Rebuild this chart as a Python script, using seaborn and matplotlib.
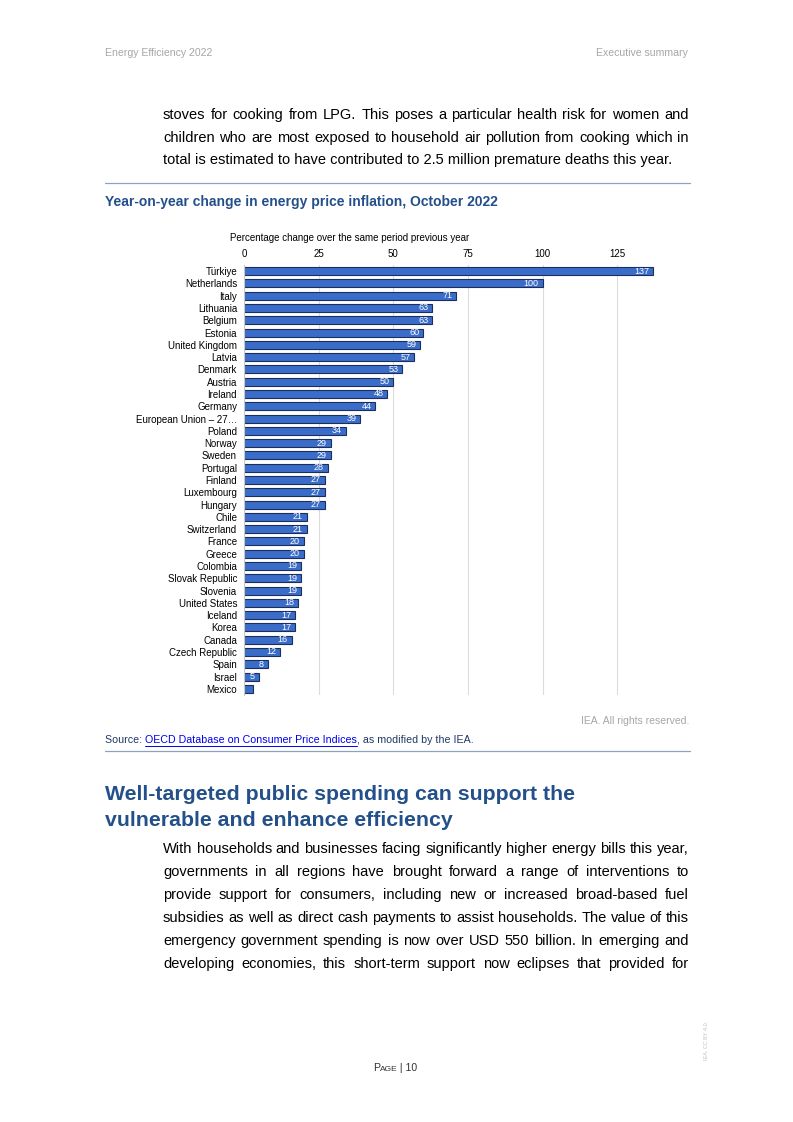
import matplotlib
matplotlib.use("Agg")
import matplotlib.pyplot as plt
from matplotlib.lines import Line2D
import seaborn as sns
import pandas as pd

# chart data
countries = ['Türkiye', 'Netherlands', 'Italy', 'Lithuania', 'Belgium', 'Estonia',
             'United Kingdom', 'Latvia', 'Denmark', 'Austria', 'Ireland', 'Germany',
             'European Union – 27…', 'Poland', 'Norway', 'Sweden', 'Portugal', 'Finland',
             'Luxembourg', 'Hungary', 'Chile', 'Switzerland', 'France', 'Greece',
             'Colombia', 'Slovak Republic', 'Slovenia', 'United States', 'Iceland',
             'Korea', 'Canada', 'Czech Republic', 'Spain', 'Israel', 'Mexico']
values = [137, 100, 71, 63, 63, 60, 59, 57, 53, 50, 48, 44, 39, 34, 29, 29, 28, 27,
          27, 27, 21, 21, 20, 20, 19, 19, 19, 18, 17, 17, 16, 12, 8, 5, 3]
x_ticks = [0, 25, 50, 75, 100, 125]

para1 = [
    "stoves for cooking from LPG. This poses a particular health risk for women and",
    "children who are most exposed to household air pollution from cooking which in",
    "total is estimated to have contributed to 2.5 million premature deaths this year.",
]
para2 = [
    "With households and businesses facing significantly higher energy bills this year,",
    "governments in all regions have brought forward a range of interventions to",
    "provide support for consumers, including new or increased broad-based fuel",
    "subsidies as well as direct cash payments to assist households. The value of this",
    "emergency government spending is now over USD 550 billion. In emerging and",
    "developing economies, this short-term support now eclipses that provided for",
]

sns.set_theme(style="white")
plt.rcParams['font.family'] = ['Liberation Sans', 'DejaVu Sans']

W, H = 793, 1122
fig = plt.figure(figsize=(W / 100, H / 100), dpi=100)
renderer = fig.canvas.get_renderer()

BLUE = '#23508a'
GREY = '#a6a6a6'


def fx(x):
    return x / W


def fy(y):
    return 1 - y / H


def text_px(x, y, s, **kw):
    return fig.text(fx(x), fy(y), s, **kw)


def width_of(art):
    return art.get_window_extent(renderer).width


def justified(lines, x0, x1, y0, step, size, last_full=False):
    # word-by-word placement on a common (whole pixel) baseline, stretched to the column
    for k, line in enumerate(lines):
        y = round(y0 + k * step) + 4
        words = line.split(' ')
        if k == len(lines) - 1 and not last_full:
            text_px(x0, y, line, fontsize=size, va='baseline', color='black')
            continue
        arts = [text_px(x0, y, w, fontsize=size, va='baseline', color='black') for w in words]
        widths = [width_of(a) for a in arts]
        gap = (x1 - x0 - sum(widths)) / (len(words) - 1)
        x = x0
        for a, w in zip(arts, widths):
            a.set_x(fx(x))
            x += w + gap


# page header
text_px(105, 53, "Energy Efficiency 2022", fontsize=7.6, color=GREY, va='center')
text_px(688, 53, "Executive summary", fontsize=7.6, color=GREY, va='center', ha='right')

justified(para1, 163, 689, 115, 22.5, 10.5)

fig.add_artist(Line2D([fx(105), fx(690)], [fy(183), fy(183)], color='#8ea2c0', lw=0.9))
text_px(105, 202, "Year-on-year change in energy price inflation, October 2022",
        fontsize=10, fontweight='bold', color=BLUE, va='center')
text_px(230, 238, "Percentage change over the same period previous year",
        fontsize=7, color='black', va='center')

# chart
df = pd.DataFrame({'country': countries, 'value': values})
ax = fig.add_axes([fx(244), fy(695), (662 - 244) / W, (695 - 265) / H])
sns.barplot(data=df, x='value', y='country', orient='h', color='#3a6dca',
            saturation=1, edgecolor='#1c2f5c', linewidth=0.8, width=0.66, ax=ax)
for i, v in enumerate(values):
    if v >= 4:
        ax.text(v - 1.3, i, str(v), ha='right', va='center', color='white', fontsize=6.5)

ax.set_xlim(0, 140)
ax.set_xticks(x_ticks)
ax.xaxis.tick_top()
ax.tick_params(axis='x', length=0, pad=4, labelsize=7, colors='black')
ax.tick_params(axis='y', length=0, pad=5, labelsize=7, colors='black')
ax.set_xlabel('')
ax.set_ylabel('')
ax.grid(axis='x', color='#dcdcdc', lw=0.8)
ax.set_axisbelow(True)
for side in ['top', 'right', 'bottom']:
    ax.spines[side].set_visible(False)
ax.spines['left'].set_color('#c8c8c8')
ax.spines['left'].set_linewidth(0.8)

# source and notice
text_px(689, 721, "IEA. All rights reserved.", fontsize=7.5, color=GREY, va='center', ha='right')
src = text_px(105, 740, "Source: ", fontsize=7.7, color='#1f3864', va='center')
sw = width_of(src)
link = text_px(105 + sw, 740, "OECD Database on Consumer Price Indices", fontsize=7.7,
               color='#0000ee', va='center')
lw_ = width_of(link)
fig.add_artist(Line2D([fx(105 + sw), fx(105 + sw + lw_)], [fy(745.5), fy(745.5)],
                      color='#0000ee', lw=0.7))
text_px(105 + sw + lw_, 740, ", as modified by the IEA.", fontsize=7.7, color='#1f3864', va='center')
fig.add_artist(Line2D([fx(105), fx(690)], [fy(751), fy(751)], color='#8ea2c0', lw=0.9))

# section heading
text_px(105, 794, "Well-targeted public spending can support the", fontsize=15.3,
        fontweight='bold', color=BLUE, va='center')
text_px(105, 820, "vulnerable and enhance efficiency", fontsize=15.3,
        fontweight='bold', color=BLUE, va='center')

justified(para2, 163, 689, 849, 23, 10.5, last_full=True)

# footer, small caps "Page"
parts = [("P", 7.6), ("AGE", 6.0), (" | 10", 7.6)]
arts = [text_px(0, 1071, s, fontsize=sz, color='#333333', va='baseline') for s, sz in parts]
total = sum(width_of(a) for a in arts)
x = 395 - total / 2
for a in arts:
    a.set_x(fx(x))
    x += width_of(a)
text_px(707, 1040, "IEA. CC BY 4.0.", fontsize=4, color='#c0c0c0', va='center', ha='center',
        rotation=90)

fig.savefig('out.png', dpi=100)
